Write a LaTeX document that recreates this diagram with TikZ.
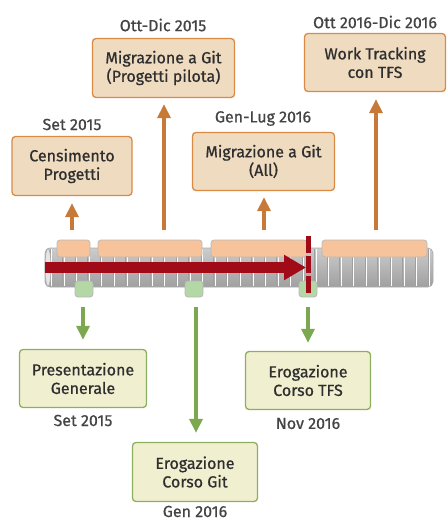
\documentclass[tikz,border=0pt]{standalone}
\usepackage{fontspec}
\setmainfont{Fira Sans}
\newfontfamily\medfont{Fira Sans}[FakeBold=0.7]
\usetikzlibrary{arrows.meta}
\definecolor{oboxc}{HTML}{EFDBC0}
\definecolor{olinec}{HTML}{D98A45}
\definecolor{oarrowc}{HTML}{C77A38}
\definecolor{gboxc}{HTML}{F0EFD0}
\definecolor{glinec}{HTML}{8DB060}
\definecolor{garrowc}{HTML}{7CA84F}
\definecolor{obarc}{HTML}{F7C39A}
\definecolor{gsqc}{HTML}{B4D7A6}
\definecolor{redc}{HTML}{A10B18}
\definecolor{txtc}{HTML}{2E2E2E}
\definecolor{dtxtc}{HTML}{444444}
\begin{document}
\begin{tikzpicture}[x=1pt,y=-1pt,
  boxbase/.style={line width=1.3pt, rounded corners=3.5pt, align=center, text=txtc,
    font=\medfont\fontsize{16}{18.5}\selectfont, inner sep=0pt},
  obox/.style={boxbase, draw=olinec, fill=oboxc},
  gbox/.style={boxbase, draw=glinec, fill=gboxc},
  datelbl/.style={text=dtxtc, font=\medfont\fontsize{16}{18}\selectfont, inner sep=0pt},
  oarr/.style={draw=oarrowc, line width=3.5pt, -{Triangle[width=13pt,length=14pt]}},
  garr/.style={draw=garrowc, line width=3.5pt, -{Triangle[width=13pt,length=14pt]}},
  obar/.style={draw=gray!55, fill=obarc, line width=0.8pt, rounded corners=3pt},
  gsq/.style={draw=gray!55, fill=gsqc, line width=0.8pt, rounded corners=3pt},
]
\useasboundingbox (0,0) rectangle (447,520);

% cylinder
\shade[top color=gray!40, middle color=white, bottom color=gray!75, rounded corners=5pt]
  (45,248) rectangle (433,287);
\foreach \i in {0,...,30}{
  \draw[gray!75, line width=0.7pt] ({50+12.6*\i},249) -- ({50+12.6*\i},286);
  \draw[white, line width=0.7pt] ({51.3+12.6*\i},249) -- ({51.3+12.6*\i},286);
}
\draw[gray!65, line width=0.7pt, rounded corners=5pt] (45,248) rectangle (433,287);
\draw[gray!65, line width=0.7pt, fill=gray!20] (48,267.5) ellipse (3pt and 19pt);

% bars on cylinder
\draw[obar] (57,240) rectangle (90,257);
\draw[obar] (98,240) rectangle (202,257);
\draw[obar] (211,240) rectangle (307,257);
\draw[obar] (322,240) rectangle (427,257);

\draw[gsq] (75,281) rectangle (93,297);
\draw[gsq] (185,281) rectangle (203,297);
\draw[gsq] (299,281) rectangle (317,297);

% red progress arrow
\coordinate (rs) at (45,267.5);
\coordinate (re) at (306,267.5);
\draw[redc, line width=11pt, -{Triangle[width=24pt,length=22pt]}] (rs) -- (re);
\coordinate (ds) at (308,236);
\coordinate (de) at (308,295);
\draw[redc, line width=5pt, dash pattern=on 17pt off 3pt] (ds) -- (de);

% orange boxes
\node[obox, minimum width=120pt, minimum height=59pt] (cens) at (72,166) {Censimento\\Progetti};
\node[obox, minimum width=142pt, minimum height=59pt] (pil) at (163.5,68) {Migrazione a Git\\(Progetti pilota)};
\node[obox, minimum width=142pt, minimum height=58pt] (all) at (263.5,161.5) {Migrazione a Git\\(All)};
\node[obox, minimum width=141pt, minimum height=58pt] (wt) at (375,62.5) {Work Tracking\\con TFS};

\node[datelbl] (d1) at (72,124.5) {Set 2015};
\node[datelbl] (d2) at (163,25) {Ott-Dic 2015};
\node[datelbl] (d3) at (263,118.5) {Gen-Lug 2016};
\node[datelbl] (d4) at (375,22) {Ott 2016-Dic 2016};

% green boxes
\node[gbox, minimum width=127pt, minimum height=58pt] (pres) at (83,378.5) {Presentazione\\Generale};
\node[gbox, minimum width=125pt, minimum height=58pt] (tfs) at (308,380.5) {Erogazione\\Corso TFS};
\node[gbox, minimum width=125pt, minimum height=59pt] (git) at (195,472) {Erogazione\\Corso Git};

\node[datelbl] (d5) at (83,420.5) {Set 2015};
\node[datelbl] (d6) at (308,423.5) {Nov 2016};
\node[datelbl] (d7) at (195,511.5) {Gen 2016};

% orange arrows
\coordinate (o1) at (72,230);
\coordinate (o2) at (164,230);
\coordinate (o3) at (264,230);
\coordinate (o4) at (376,230);
\draw[oarr, shorten >=7pt] (o1) -- (o1 |- cens.south);
\draw[oarr, shorten >=6pt] (o2) -- (o2 |- pil.south);
\draw[oarr, shorten >=6pt] (o3) -- (o3 |- all.south);
\draw[oarr, shorten >=7pt] (o4) -- (o4 |- wt.south);

% green arrows
\coordinate (g1) at (83,307);
\coordinate (g2) at (196,307);
\coordinate (g3) at (308,307);
\draw[garr, shorten >=9pt] (g1) -- (g1 |- pres.north);
\draw[garr, shorten >=9pt] (g2) -- (g2 |- git.north);
\draw[garr, shorten >=8pt] (g3) -- (g3 |- tfs.north);
\end{tikzpicture}
\end{document}
